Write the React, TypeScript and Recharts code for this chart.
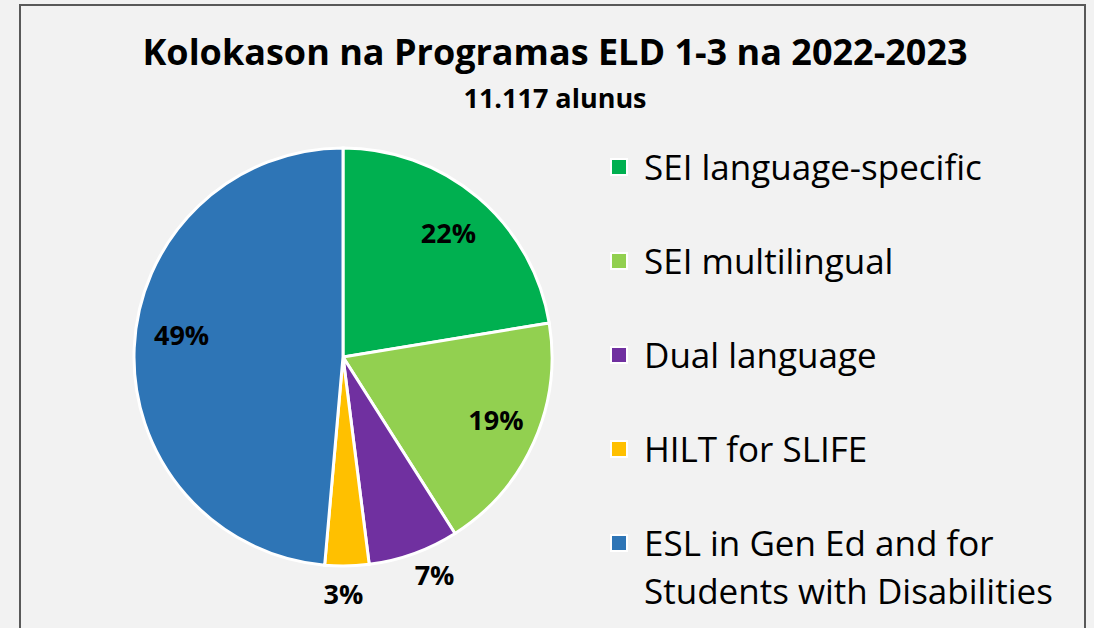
import React from "react";
import { PieChart, Pie, Cell, Legend } from "recharts";

const programs = [
  "SEI language-specific",
  "SEI multilingual",
  "Dual language",
  "HILT for SLIFE",
  "ESL in Gen Ed and for Students with Disabilities",
];
const legendLines = [
  ["SEI language-specific"],
  ["SEI multilingual"],
  ["Dual language"],
  ["HILT for SLIFE"],
  ["ESL in Gen Ed and for", "Students with Disabilities"],
];
const shares = [22.4, 18.6, 7.0, 3.4, 48.6];
const colors = ["#00b050", "#92d050", "#7030a0", "#ffc000", "#2e75b6"];
// labels of small slices sit outside the pie
const labelRadius = [0.78, 0.79, 1.13, 1.13, 0.78];
// small nudges (degrees, counter-clockwise) so labels land where the original put them
const labelAngleShift = [0, 2, 3, -1, -5.5];

const data = programs.map((name, i) => ({ name, value: shares[i] }));

const FONT = "'Open Sans', 'Noto Sans', sans-serif";

function renderLabel(props: any) {
  const { cx, cy, midAngle, outerRadius, index, percent } = props;
  const RAD = Math.PI / 180;
  const r = outerRadius * labelRadius[index];
  const a = midAngle + labelAngleShift[index];
  const x = cx + r * Math.cos(-a * RAD);
  const y = cy + r * Math.sin(-a * RAD);
  return (
    <text
      x={x}
      y={y}
      textAnchor="middle"
      dominantBaseline="central"
      fill="#000"
      fontFamily={FONT}
      fontWeight={700}
      fontSize={27}
    >
      {Math.round(percent * 100)}%
    </text>
  );
}

function LegendContent() {
  return (
    <div style={{ fontFamily: FONT, fontSize: 35, color: "#000" }}>
      {legendLines.map((lines, i) => (
        <div key={i} style={{ display: "flex", alignItems: "flex-start", marginBottom: 46 }}>
          <div
            style={{
              width: 14,
              height: 14,
              background: colors[i],
              border: "2px solid #fff",
              marginTop: 15,
              marginRight: 16,
              flexShrink: 0,
            }}
          />
          <div style={{ lineHeight: "48px", whiteSpace: "nowrap" }}>
            {lines.map((l, j) => (
              <div key={j}>{l}</div>
            ))}
          </div>
        </div>
      ))}
    </div>
  );
}

export default function App() {
  return (
    <div style={{ position: "fixed", left: 0, top: 0, width: 1094, height: 628, background: "#f2f2f2", overflow: "hidden" }}>
      <div
        style={{
          position: "absolute",
          left: 19,
          top: 4,
          width: 1067,
          height: 640,
          border: "2px solid #595959",
          boxSizing: "border-box",
        }}
      />
      <div
        style={{
          position: "absolute",
          left: 0,
          width: 1110,
          top: 28,
          textAlign: "center",
          fontFamily: FONT,
          fontWeight: 700,
          fontSize: 36,
          lineHeight: "48px",
        }}
      >
        Kolokason na Programas ELD 1-3 na 2022-2023
      </div>
      <div
        style={{
          position: "absolute",
          left: 0,
          width: 1110,
          top: 82,
          textAlign: "center",
          fontFamily: FONT,
          fontWeight: 700,
          fontSize: 27,
          lineHeight: "32px",
        }}
      >
        11.117 alunus
      </div>
      <PieChart width={1094} height={628} style={{ position: "absolute", left: 0, top: 0 }}>
        <Pie
          data={data}
          dataKey="value"
          nameKey="name"
          cx={338}
          cy={352}
          outerRadius={209}
          startAngle={90}
          endAngle={-270}
          stroke="#fff"
          strokeWidth={3}
          label={renderLabel}
          labelLine={false}
          isAnimationActive={false}
        >
          {data.map((d, i) => (
            <Cell key={d.name} fill={colors[i]} />
          ))}
        </Pie>
        <Legend
          content={<LegendContent />}
          layout="vertical"
          wrapperStyle={{ position: "absolute", left: 610, top: 143, width: 470 }}
        />
      </PieChart>
    </div>
  );
}
